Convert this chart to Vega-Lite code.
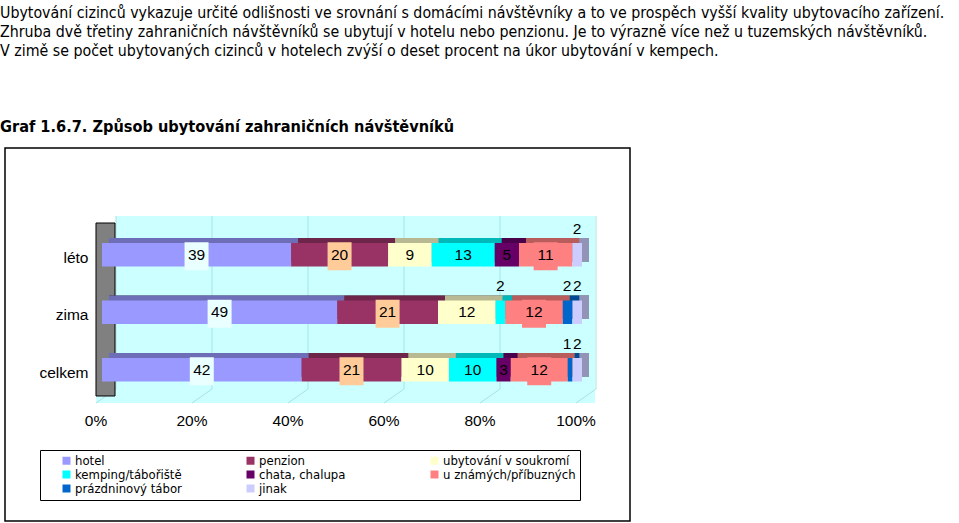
{
  "$schema": "https://vega.github.io/schema/vega-lite/v6.json",
  "width": 625,
  "height": 373,
  "autosize": {"type": "none"},
  "padding": {"left": 5, "top": 148, "right": 329, "bottom": 2},
  "background": "white",
  "title": {
    "text": [
      "Ubytování cizinců vykazuje určité odlišnosti ve srovnání s domácími návštěvníky a to ve prospěch vyšší kvality ubytovacího zařízení.",
      "Zhruba dvě třetiny zahraničních návštěvníků se ubytují v hotelu nebo penzionu. Je to výrazně více než u tuzemských návštěvníků.",
      "V zimě se počet ubytovaných cizinců v hotelech zvýší o deset procent na úkor ubytování v kempech."
    ],
    "subtitle": "Graf 1.6.7. Způsob ubytování zahraničních návštěvníků",
    "anchor": "start",
    "frame": "group",
    "dx": -5,
    "offset": 12,
    "font": "DejaVu Sans Condensed",
    "fontSize": 15.8,
    "fontWeight": "normal",
    "color": "black",
    "lineHeight": 19,
    "subtitleFont": "DejaVu Sans Condensed",
    "subtitleFontSize": 16.2,
    "subtitleFontWeight": "bold",
    "subtitleColor": "black",
    "subtitlePadding": 59
  },
  "config": {
    "view": {"stroke": "#000000", "strokeWidth": 1.5, "fill": "white"},
    "font": "Liberation Sans"
  },
  "resolve": {"scale": {"x": "shared", "y": "shared"}},
  "datasets": {
    "ubytovani": [
      {"sezona": "léto", "typ": "hotel", "podil": 39},
      {"sezona": "léto", "typ": "penzion", "podil": 20},
      {"sezona": "léto", "typ": "ubytování v soukromí", "podil": 9},
      {"sezona": "léto", "typ": "kemping/tábořiště", "podil": 13},
      {"sezona": "léto", "typ": "chata, chalupa", "podil": 5},
      {"sezona": "léto", "typ": "u známých/příbuzných", "podil": 11},
      {"sezona": "léto", "typ": "jinak", "podil": 2},
      {"sezona": "zima", "typ": "hotel", "podil": 49},
      {"sezona": "zima", "typ": "penzion", "podil": 21},
      {"sezona": "zima", "typ": "ubytování v soukromí", "podil": 12},
      {"sezona": "zima", "typ": "kemping/tábořiště", "podil": 2},
      {"sezona": "zima", "typ": "u známých/příbuzných", "podil": 12},
      {"sezona": "zima", "typ": "prázdninový tábor", "podil": 2},
      {"sezona": "zima", "typ": "jinak", "podil": 2},
      {"sezona": "celkem", "typ": "hotel", "podil": 42},
      {"sezona": "celkem", "typ": "penzion", "podil": 21},
      {"sezona": "celkem", "typ": "ubytování v soukromí", "podil": 10},
      {"sezona": "celkem", "typ": "kemping/tábořiště", "podil": 10},
      {"sezona": "celkem", "typ": "chata, chalupa", "podil": 3},
      {"sezona": "celkem", "typ": "u známých/příbuzných", "podil": 12},
      {"sezona": "celkem", "typ": "prázdninový tábor", "podil": 1},
      {"sezona": "celkem", "typ": "jinak", "podil": 2}
    ],
    "mrizka": [
      {"hodnota": 0}, {"hodnota": 0.2}, {"hodnota": 0.4}, {"hodnota": 0.6}, {"hodnota": 0.8}, {"hodnota": 1.0}
    ]
  },
  "layer": [
    {
      "data": {"values": [{}]},
      "mark": {"type": "rect", "color": "#ccffff"},
      "encoding": {
        "x": {"datum": 0.0292, "type": "quantitative", "axis": null},
        "x2": {"datum": 1.0271},
        "y": {"datum": "léto", "type": "nominal", "bandPosition": -1.149},
        "y2": {"datum": "celkem", "bandPosition": 1.32}
      }
    },
    {
      "data": {"values": [{}]},
      "mark": {"type": "rect", "color": "#ccffff"},
      "encoding": {
        "x": {"datum": -0.0125, "type": "quantitative", "axis": null},
        "x2": {"datum": 1.0271},
        "y": {"datum": "celkem", "type": "nominal", "bandPosition": 1.3},
        "y2": {"datum": "celkem", "bandPosition": 1.915}
      }
    },
    {
      "data": {"name": "mrizka"},
      "mark": {"type": "rule", "color": "#a6e3e3", "strokeWidth": 1, "xOffset": 14, "x2Offset": 14},
      "encoding": {
        "x": {"field": "hodnota", "type": "quantitative", "axis": null},
        "y": {"datum": "léto", "type": "nominal", "bandPosition": -1.149},
        "y2": {"datum": "celkem", "bandPosition": 1.32}
      }
    },
    {
      "data": {"name": "mrizka"},
      "mark": {"type": "rule", "color": "#a6e3e3", "strokeWidth": 1, "xOffset": -6, "x2Offset": 14},
      "encoding": {
        "x": {"field": "hodnota", "type": "quantitative", "axis": null},
        "x2": {"field": "hodnota"},
        "y": {"datum": "celkem", "type": "nominal", "bandPosition": 1.915},
        "y2": {"datum": "celkem", "bandPosition": 1.32}
      }
    },
    {
      "data": {"values": [{}]},
      "mark": {"type": "rect", "fill": "#808080", "stroke": "#000000", "strokeWidth": 1},
      "encoding": {
        "x": {"datum": -0.0125, "type": "quantitative", "axis": null},
        "x2": {"datum": 0.0271},
        "y": {"datum": "léto", "type": "nominal", "bandPosition": -0.851},
        "y2": {"datum": "celkem", "bandPosition": 1.617}
      }
    },
    {
      "data": {"name": "mrizka"},
      "mark": {"type": "text", "font": "Liberation Sans", "fontSize": 15.5, "color": "#000000", "align": "center", "baseline": "middle", "xOffset": -6},
      "encoding": {
        "x": {"field": "hodnota", "type": "quantitative", "axis": null},
        "y": {"datum": "celkem", "type": "nominal", "bandPosition": 2.66},
        "text": {"field": "hodnota", "type": "quantitative", "format": ".0%"}
      }
    },
    {
      "data": {"name": "ubytovani"},
      "transform": [
        {"window": [{"op": "row_number", "as": "poradi"}], "groupby": ["sezona"]}
      ],
      "encoding": {
        "y": {
          "field": "sezona",
          "type": "nominal",
          "scale": {
            "type": "band",
            "domain": ["léto", "zima", "celkem"],
            "range": [95, 233.5],
            "paddingInner": 0.5913,
            "paddingOuter": 0
          },
          "axis": {
            "title": null,
            "domain": false,
            "ticks": false,
            "grid": false,
            "labelPadding": -83,
            "labelOffset": 3,
            "labelFont": "Liberation Sans",
            "labelFontSize": 15.5,
            "labelColor": "#000000"
          }
        },
        "order": {"field": "poradi", "type": "quantitative"}
      },
      "layer": [
        {
          "mark": {"type": "bar", "color": "#000000", "xOffset": 7, "x2Offset": 7, "yOffset": -5, "y2Offset": -5},
          "encoding": {
            "x": {"field": "podil", "type": "quantitative", "stack": "normalize", "axis": null}
          }
        },
        {
          "mark": {"type": "bar", "fillOpacity": 0.72, "xOffset": 7, "x2Offset": 7, "yOffset": -5, "y2Offset": -5},
          "encoding": {
            "x": {"field": "podil", "type": "quantitative", "stack": "normalize", "axis": null},
            "color": {"field": "typ", "type": "nominal"}
          }
        },
        {
          "mark": {"type": "bar"},
          "encoding": {
            "x": {
              "field": "podil",
              "type": "quantitative",
              "stack": "normalize",
              "scale": {"domain": [-0.20208, 1.1], "nice": false, "zero": false},
              "axis": null
            },
            "color": {
              "field": "typ",
              "type": "nominal",
              "scale": {
                "domain": ["hotel", "penzion", "ubytování v soukromí", "kemping/tábořiště", "chata, chalupa", "u známých/příbuzných", "prázdninový tábor", "jinak"],
                "range": ["#9999ff", "#993366", "#ffffcc", "#00ffff", "#660066", "#ff8080", "#0066cc", "#ccccff"]
              },
              "legend": {
                "orient": "none",
                "legendX": 35,
                "legendY": 302,
                "direction": "horizontal",
                "columns": 3,
                "title": " ",
                "titleOrient": "left",
                "titleFontSize": 13,
                "titlePadding": 16,
                "symbolType": "square",
                "symbolSize": 64,
                "symbolStrokeWidth": 0,
                "symbolOpacity": 1,
                "labelFont": "DejaVu Sans Condensed",
                "labelFontSize": 13,
                "labelColor": "#000000",
                "labelOffset": 2,
                "labelLimit": 250,
                "rowPadding": -1.5,
                "columnPadding": 36,
                "gridAlign": "all",
                "strokeColor": "#000000",
                "fillColor": "white",
                "padding": 4
              }
            }
          }
        },
        {
          "mark": {"type": "point", "shape": "M-0.857,-1H0.857V1H-0.857Z", "size": 784, "filled": true, "strokeWidth": 0, "opacity": 1, "yOffset": 1.5},
          "encoding": {
            "x": {"field": "podil", "type": "quantitative", "stack": "normalize", "bandPosition": 0.5, "axis": null},
            "fill": {
              "condition": [
                {"test": "datum.typ === 'hotel'", "value": "#eaffff"},
                {"test": "datum.typ === 'penzion'", "value": "#ffcc99"},
                {"test": "datum.typ === 'u známých/příbuzných'", "value": "#ff8080"}
              ],
              "value": "transparent"
            }
          }
        },
        {
          "mark": {"type": "text", "font": "Liberation Sans", "fontSize": 15.5, "color": "#000000", "align": "center", "baseline": "middle"},
          "encoding": {
            "x": {"field": "podil", "type": "quantitative", "stack": "normalize", "bandPosition": 0.5, "axis": null},
            "text": {"field": "podil", "type": "quantitative"},
            "opacity": {"condition": {"test": "datum.podil > 2", "value": 1}, "value": 0}
          }
        },
        {
          "mark": {"type": "text", "font": "Liberation Sans", "fontSize": 15.5, "color": "#000000", "align": "center", "baseline": "middle", "yOffset": -26},
          "encoding": {
            "x": {"field": "podil", "type": "quantitative", "stack": "normalize", "bandPosition": 0.5, "axis": null},
            "text": {"field": "podil", "type": "quantitative"},
            "opacity": {"condition": {"test": "datum.podil <= 2 && datum.typ !== 'prázdninový tábor'", "value": 1}, "value": 0}
          }
        },
        {
          "mark": {"type": "text", "font": "Liberation Sans", "fontSize": 15.5, "color": "#000000", "align": "right", "baseline": "middle", "yOffset": -26, "dx": -1},
          "encoding": {
            "x": {"field": "podil", "type": "quantitative", "stack": "normalize", "bandPosition": 1, "axis": null},
            "text": {"field": "podil", "type": "quantitative"},
            "opacity": {"condition": {"test": "datum.typ === 'prázdninový tábor'", "value": 1}, "value": 0}
          }
        }
      ]
    }
  ]
}
